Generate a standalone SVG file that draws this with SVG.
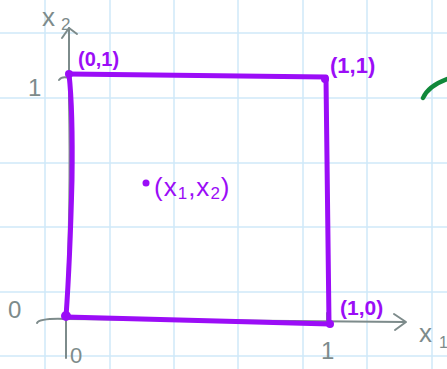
<svg xmlns="http://www.w3.org/2000/svg" width="447" height="369" viewBox="0 0 447 369">
<style>
.grid{stroke:#cfe9f8;stroke-width:1.5}
.ax{stroke:#7d8b8b;stroke-width:2;fill:none;stroke-linecap:round;stroke-linejoin:round}
.sq{stroke:#9b0df7;stroke-width:5;fill:none;stroke-linecap:round;stroke-linejoin:round}
.gl{font-family:"Liberation Sans",Arial,sans-serif;fill:#7d8b8b}
.pl{font-family:"Liberation Sans",Arial,sans-serif;fill:#9b0df7}
</style>
<rect width="447" height="369" fill="#ffffff"/>
<g id="grid">
<line class="grid" x1="45" y1="0" x2="45" y2="369"/>
<line class="grid" x1="110" y1="0" x2="110" y2="369"/>
<line class="grid" x1="174" y1="0" x2="174" y2="369"/>
<line class="grid" x1="238" y1="0" x2="238" y2="369"/>
<line class="grid" x1="303" y1="0" x2="303" y2="369"/>
<line class="grid" x1="367" y1="0" x2="367" y2="369"/>
<line class="grid" x1="432" y1="0" x2="432" y2="369"/>
<line class="grid" x1="0" y1="33" x2="447" y2="33"/>
<line class="grid" x1="0" y1="98" x2="447" y2="98"/>
<line class="grid" x1="0" y1="163" x2="447" y2="163"/>
<line class="grid" x1="0" y1="227" x2="447" y2="227"/>
<line class="grid" x1="0" y1="292" x2="447" y2="292"/>
<line class="grid" x1="0" y1="356" x2="447" y2="356"/>
</g>
<g id="axes">
<path class="ax" d="M69 28 L69 100 Q71 200 66 320 L66 358"/>
<path class="ax" d="M62 38 L69 28 L77 34"/>
<path class="ax" d="M37 323 Q40 318 66 319 L405 322"/>
<path class="ax" d="M394 314 L406 322 L395 330"/>
<path class="ax" d="M59 80 Q62 76 69 78"/>
<path class="ax" d="M327 313 L327 322"/>
</g>
<g id="axis-labels">
<text class="gl" x="42" y="26" font-size="26">x</text>
<text class="gl" x="61" y="30" font-size="17">2</text>
<text class="gl" x="28" y="96" font-size="24">1</text>
<text class="gl" x="8" y="318" font-size="24">0</text>
<text class="gl" x="70" y="363" font-size="22">0</text>
<text class="gl" x="321" y="359" font-size="24">1</text>
<text class="gl" x="419" y="342" font-size="26">x</text>
<text class="gl" x="439" y="348" font-size="16">1</text>
</g>
<g id="square">
<path class="sq" d="M69 74 Q73 110 72 180 Q70 260 66 317"/>
<path class="sq" d="M69 74 L326 77"/>
<path class="sq" d="M326 78 L329 323"/>
<path class="sq" d="M66 317 L330 324"/>
<circle cx="69" cy="74" r="4" fill="#9b0df7"/>
<circle cx="325" cy="79" r="4" fill="#9b0df7"/>
<circle cx="330" cy="324" r="4" fill="#9b0df7"/>
<circle cx="66" cy="316" r="5" fill="#9b0df7"/>
</g>
<g id="point">
<circle cx="146" cy="183" r="3.5" fill="#9b0df7"/>
<text class="pl" x="154" y="196" font-size="26" letter-spacing="1">(x<tspan font-size="17" dy="3">1</tspan><tspan dy="-3">,x</tspan><tspan font-size="17" dy="3">2</tspan><tspan dy="-3">)</tspan></text>
</g>
<g id="corner-labels">
<text class="pl" x="78" y="66" font-size="20" font-weight="bold">(0,1)</text>
<text class="pl" x="330" y="73" font-size="22" font-weight="bold">(1,1)</text>
<text class="pl" x="340" y="315" font-size="21" font-weight="bold">(1,0)</text>
</g>
<g id="green">
<path d="M423 98 Q428 86 447 79" stroke="#10883a" stroke-width="4.5" fill="none" stroke-linecap="round"/>
</g>
</svg>
